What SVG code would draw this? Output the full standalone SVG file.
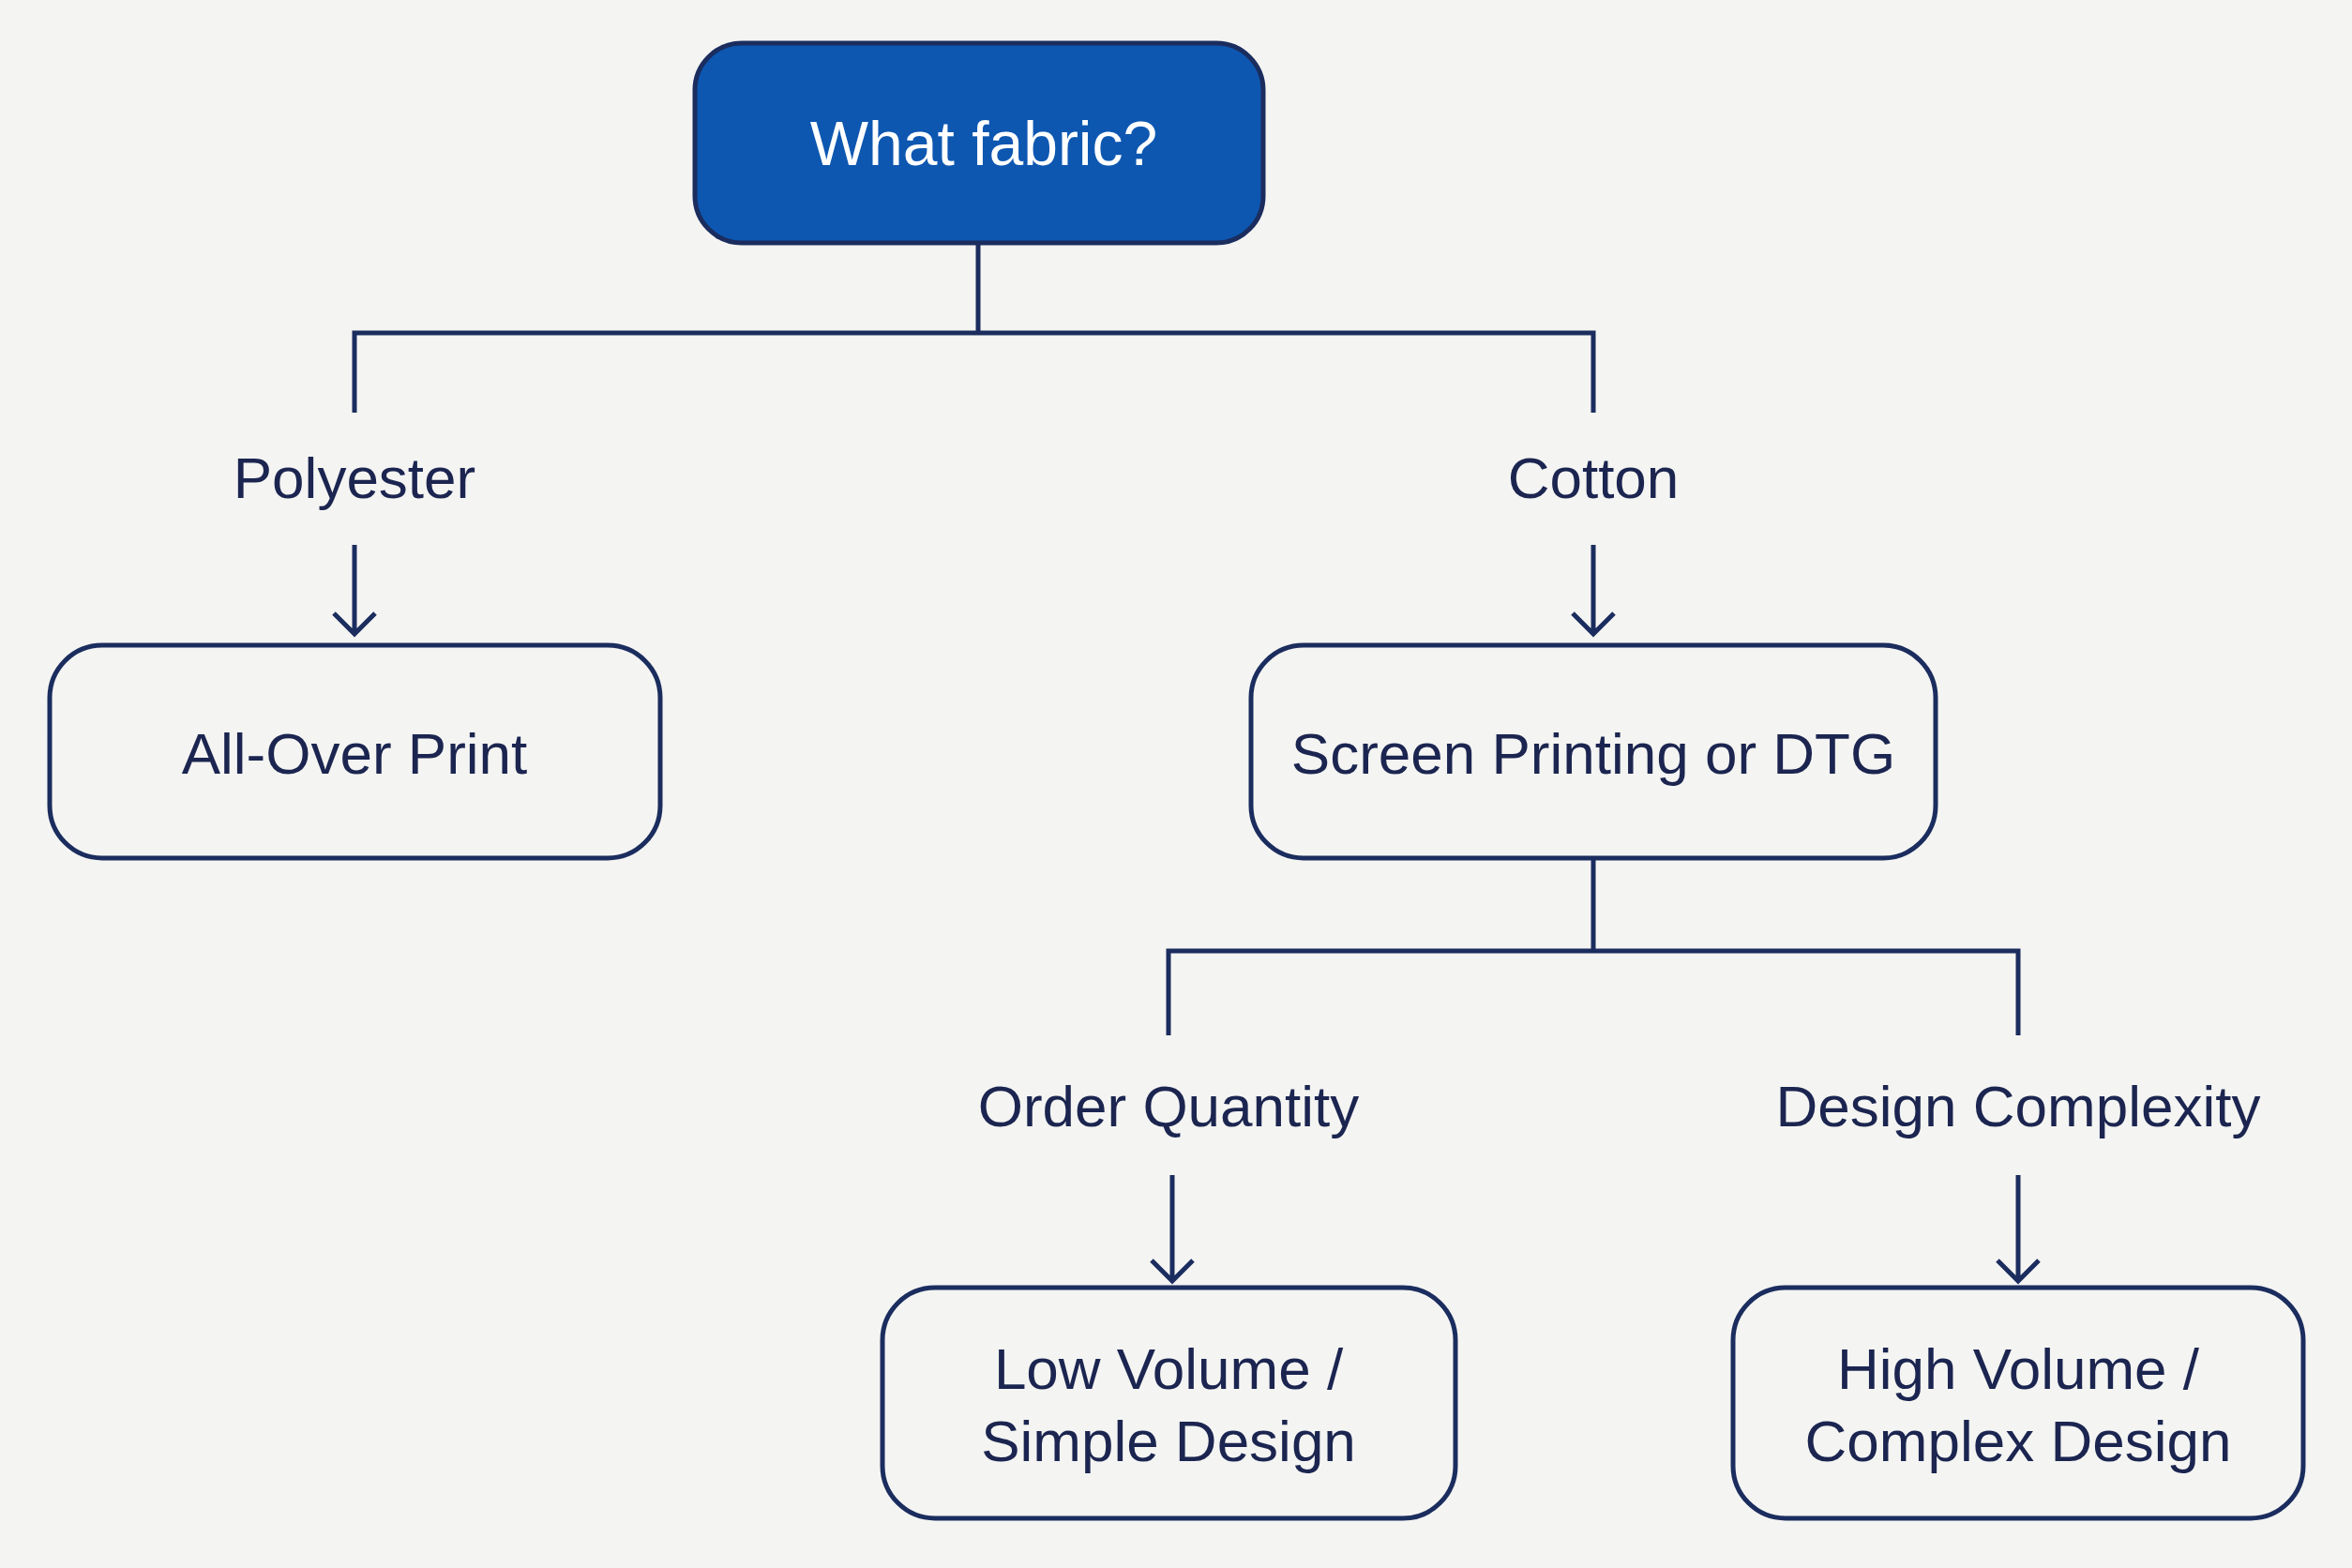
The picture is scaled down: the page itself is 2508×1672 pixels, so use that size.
<svg xmlns="http://www.w3.org/2000/svg" width="2508" height="1672" viewBox="0 0 2508 1672">
<defs>
<style>
.box{fill:none;stroke:#1b2d5e;stroke-width:5}
.t{font-family:"Liberation Sans",Arial,sans-serif;font-size:62px;fill:#1b2550;text-anchor:middle;dominant-baseline:central}
.c{fill:none;stroke:#1b2d5e;stroke-width:5}
</style>
<marker id="ah" viewBox="0 0 20 20" refX="10" refY="18" markerWidth="20" markerHeight="20" markerUnits="userSpaceOnUse" orient="auto-start-reverse">
</marker>
</defs>
<rect width="2508" height="1672" fill="#f4f4f2"/>
<g id="connectors" class="c">
<path d="M1043 259V355M378 440V355H1699V440"/>
<path d="M378 581V676M356 654L378 676L400 654"/>
<path d="M1699 581V676M1677 654L1699 676L1721 654"/>
<path d="M1699 915V1014M1246 1104V1014H2152V1104"/>
<path d="M1250 1253V1366M1228 1344L1250 1366L1272 1344"/>
<path d="M2152 1253V1366M2130 1344L2152 1366L2174 1344"/>
</g>
<g id="n-fabric"><rect x="741" y="46" width="606" height="213" rx="50" fill="#0d57b1" stroke="#1b2d5e" stroke-width="5"/><text class="t" x="1049" y="153" style="fill:#fff;font-size:66px">What fabric?</text></g>
<g id="l-poly"><text class="t" x="378" y="509">Polyester</text></g>
<g id="l-cotton"><text class="t" x="1699" y="509">Cotton</text></g>
<g id="n-aop"><rect class="box" x="53" y="688" width="651" height="227" rx="56"/><text class="t" x="378" y="803">All-Over Print</text></g>
<g id="n-screen"><rect class="box" x="1334" y="688" width="730" height="227" rx="56"/><text class="t" x="1699" y="803">Screen Printing or DTG</text></g>
<g id="l-order"><text class="t" x="1246" y="1179">Order Quantity</text></g>
<g id="l-design"><text class="t" x="2152" y="1179">Design Complexity</text></g>
<g id="n-low"><rect class="box" x="941" y="1373" width="611" height="246" rx="56"/><text class="t" x="1246" y="1459">Low Volume /</text><text class="t" x="1246" y="1536">Simple Design</text></g>
<g id="n-high"><rect class="box" x="1848" y="1373" width="608" height="246" rx="56"/><text class="t" x="2152" y="1459">High Volume /</text><text class="t" x="2152" y="1536">Complex Design</text></g>
</svg>
